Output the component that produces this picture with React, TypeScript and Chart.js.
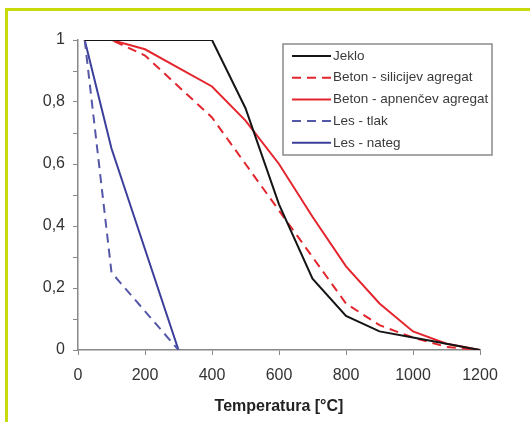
import React, { useEffect, useRef } from "react";
import { Chart, registerables } from "chart.js";

Chart.register(...registerables);

const temperatures = [20, 100, 200, 300, 400, 500, 600, 700, 800, 900, 1000, 1100, 1200];
const steel = [1, 1, 1, 1, 1, 0.78, 0.47, 0.23, 0.11, 0.06, 0.04, 0.02, 0];
const concreteSiliceous = [1, 1, 0.95, 0.85, 0.75, 0.6, 0.45, 0.3, 0.15, 0.08, 0.04, 0.01, 0];
const concreteCalcareous = [1, 1, 0.97, 0.91, 0.85, 0.74, 0.6, 0.43, 0.27, 0.15, 0.06, 0.02, 0];
const woodTemperatures = [20, 100, 300];
const woodCompression = [1, 0.25, 0];
const woodTension = [1, 0.65, 0];

const seriesLabels = [
  "Jeklo",
  "Beton - silicijev agregat",
  "Beton - apnenčev agregat",
  "Les - tlak",
  "Les - nateg",
];
const xTitle = "Temperatura [°C]";

const FONT = "'Liberation Sans', Arial, sans-serif";

const toPoints = (xs: number[], ys: number[]) => xs.map((x, i) => ({ x, y: ys[i] }));

const legendPlugin = {
  id: "boxLegend",
  afterDraw(chart: any) {
    const ctx = chart.ctx;
    const left = 283;
    const top = 44;
    const w = 209;
    const h = 111;
    ctx.save();
    ctx.fillStyle = "#ffffff";
    ctx.fillRect(left, top, w, h);
    ctx.strokeStyle = "#8a8a8a";
    ctx.lineWidth = 1.5;
    ctx.strokeRect(left, top, w, h);
    ctx.font = `13.5px ${FONT}`;
    ctx.textBaseline = "middle";
    chart.data.datasets.forEach((ds: any, i: number) => {
      const y = top + 12 + i * 21.7;
      ctx.beginPath();
      ctx.strokeStyle = ds.borderColor;
      ctx.lineWidth = ds.borderWidth;
      ctx.setLineDash(ds.borderDash || []);
      ctx.moveTo(292, y);
      ctx.lineTo(331, y);
      ctx.stroke();
      ctx.setLineDash([]);
      ctx.fillStyle = "#3a3a3a";
      ctx.fillText(ds.label, 333, y);
    });
    ctx.restore();
  },
};

export default function App() {
  const canvasRef = useRef<HTMLCanvasElement | null>(null);

  useEffect(() => {
    if (!canvasRef.current) return;
    const chart = new Chart(canvasRef.current, {
      type: "line",
      data: {
        datasets: [
          {
            label: seriesLabels[0],
            data: toPoints(temperatures, steel),
            borderColor: "#151515",
            borderWidth: 2,
            pointRadius: 0,
            tension: 0,
          },
          {
            label: seriesLabels[1],
            data: toPoints(temperatures, concreteSiliceous),
            borderColor: "#e3262e",
            borderWidth: 2,
            borderDash: [9, 6],
            pointRadius: 0,
            tension: 0,
          },
          {
            label: seriesLabels[2],
            data: toPoints(temperatures, concreteCalcareous),
            borderColor: "#e3262e",
            borderWidth: 2,
            pointRadius: 0,
            tension: 0,
          },
          {
            label: seriesLabels[3],
            data: toPoints(woodTemperatures, woodCompression),
            borderColor: "#5558a8",
            borderWidth: 2,
            borderDash: [9, 6],
            pointRadius: 0,
            tension: 0,
          },
          {
            label: seriesLabels[4],
            data: toPoints(woodTemperatures, woodTension),
            borderColor: "#3b3f9a",
            borderWidth: 2,
            pointRadius: 0,
            tension: 0,
          },
        ],
      },
      options: {
        responsive: false,
        animation: false,
        devicePixelRatio: 1,
        layout: { padding: { left: 0, top: 40, right: 50, bottom: 0 } },
        plugins: {
          legend: { display: false },
          tooltip: { enabled: false },
        },
        scales: {
          x: {
            type: "linear",
            min: 0,
            max: 1200,
            ticks: {
              stepSize: 200,
              color: "#333333",
              font: { family: FONT, size: 16 },
              padding: 11,
              maxRotation: 0,
              callback: (value: any) => String(value),
            },
            grid: {
              drawOnChartArea: false,
              drawTicks: true,
              tickLength: 5,
              color: "#888888",
            },
            border: { display: true, color: "#888888", width: 1.5 },
            title: {
              display: true,
              text: xTitle,
              color: "#222222",
              font: { family: FONT, size: 16, weight: "bold" },
              padding: { top: 0, bottom: 6 },
            },
            afterFit(scale: any) {
              scale.height = 72;
            },
          },
          y: {
            type: "linear",
            min: 0,
            max: 1,
            ticks: {
              stepSize: 0.1,
              color: "#333333",
              font: { family: FONT, size: 16 },
              padding: 8,
              callback: (value: any) => {
                const v = Number(value);
                const tenth = Math.round(v * 10);
                if (tenth % 2 === 1) return "";
                if (tenth === 10) return "1";
                if (tenth === 0) return "0";
                return (tenth / 10).toFixed(1).replace(".", ",");
              },
            },
            grid: {
              drawOnChartArea: false,
              drawTicks: true,
              tickLength: 5,
              color: "#888888",
            },
            border: { display: true, color: "#888888", width: 1.5 },
            afterFit(scale: any) {
              scale.width = 78;
            },
          },
        },
      },
      plugins: [legendPlugin],
    } as any);
    return () => chart.destroy();
  }, []);

  return (
    <div style={{ position: "absolute", left: 0, top: 0, width: 530, height: 422, background: "#ffffff", overflow: "hidden" }}>
      <div
        style={{
          position: "absolute",
          left: 5,
          top: 8,
          width: 540,
          height: 430,
          borderTop: "3px solid #c6da0c",
          borderLeft: "3px solid #c6da0c",
        }}
      />
      <canvas ref={canvasRef} width={530} height={422} style={{ position: "absolute", left: 0, top: 0 }} />
    </div>
  );
}
